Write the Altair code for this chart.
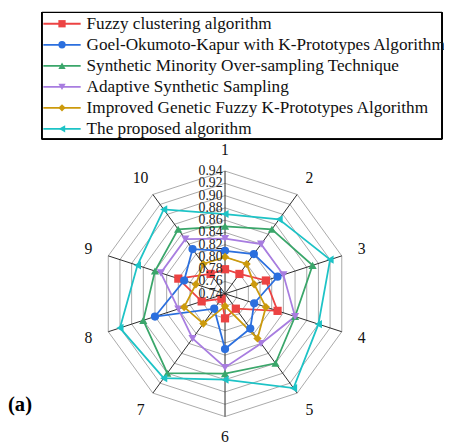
import altair as alt
import pandas as pd

# ---- data ----
series_names = [
    "Fuzzy clustering algorithm",
    "Goel-Okumoto-Kapur with K-Prototypes Algorithm",
    "Synthetic Minority Over-sampling Technique",
    "Adaptive Synthetic Sampling",
    "Improved Genetic Fuzzy K-Prototypes Algorithm",
    "The proposed algorithm",
]
axes_labels = ["1", "2", "3", "4", "5", "6", "7", "8", "9", "10"]
fuzzy = [0.78, 0.78, 0.81, 0.83, 0.77, 0.78, 0.75, 0.78, 0.82, 0.78]
gokp = [0.81, 0.82, 0.83, 0.79, 0.81, 0.83, 0.77, 0.86, 0.81, 0.83]
smote = [0.85, 0.87, 0.89, 0.86, 0.88, 0.87, 0.90, 0.88, 0.86, 0.87]
adasyn = [0.83, 0.84, 0.84, 0.86, 0.84, 0.86, 0.83, 0.82, 0.85, 0.85]
igfkp = [0.80, 0.80, 0.79, 0.81, 0.83, 0.76, 0.80, 0.81, 0.79, 0.80]
proposed = [0.87, 0.89, 0.92, 0.90, 0.93, 0.88, 0.91, 0.92, 0.89, 0.91]
ticks = [0.74, 0.76, 0.78, 0.80, 0.82, 0.84, 0.86, 0.88, 0.90, 0.92, 0.94]

colors = ["#ec4343", "#2b6fde", "#3aa66a", "#a87de0", "#cc9a0c", "#1dc3c6"]
shapes = ["square", "circle", "triangle-up", "triangle-down", "diamond", "triangle-left"]

R_MIN, R_MAX = 0.74, 0.94
N = len(axes_labels)

all_vals = [fuzzy, gokp, smote, adasyn, igfkp, proposed]
rows = []
for s, vals in zip(series_names, all_vals):
    for i in range(N + 1):
        k = i % N
        rows.append({"series": s, "axis": k, "value": vals[k], "ord": i})
df = pd.DataFrame(rows)

ring_rows = []
for t in ticks[1:]:
    for i in range(N + 1):
        ring_rows.append({"tick": t, "axis": i % N, "ord": i})
rings = pd.DataFrame(ring_rows)

spokes = pd.DataFrame({"axis": list(range(N)), "label": axes_labels})
tick_df = pd.DataFrame({"tick": ticks, "label": [f"{t:.2f}" for t in ticks]})
leg_df = pd.DataFrame({"series": series_names})

W, H = 444, 440
CX, CY, RPX = 221, 287, 125
xs = alt.Scale(domain=[-CX / RPX, (W - CX) / RPX], range=[0, W], nice=False, zero=False)
ys = alt.Scale(domain=[(CY - H) / RPX, CY / RPX], range=[H, 0], nice=False, zero=False)
cs = alt.Scale(domain=series_names, range=colors)
ss = alt.Scale(domain=series_names, range=shapes)
FONT = "Liberation Serif, Times New Roman, serif"

ang = "datum.axis * 2 * PI / 10"

grid = alt.Chart(rings).transform_calculate(
    r=f"(datum.tick - {R_MIN}) / {R_MAX - R_MIN}"
).transform_calculate(
    x=f"datum.r * sin({ang})", y=f"datum.r * cos({ang})"
).mark_line(color="#a8a8a8", strokeWidth=1).encode(
    x=alt.X("x:Q", scale=xs, axis=None),
    y=alt.Y("y:Q", scale=ys, axis=None),
    detail="tick:N",
    order="ord:Q",
)

spoke = alt.Chart(spokes).transform_calculate(
    x=f"sin({ang})", y=f"cos({ang})", z="0"
).mark_rule(color="#2a2a2a", strokeWidth=1).encode(
    x=alt.X("z:Q", scale=xs, axis=None),
    y=alt.Y("z:Q", scale=ys, axis=None),
    x2="x:Q",
    y2="y:Q",
)

cat_labels = alt.Chart(spokes).transform_calculate(
    x=f"1.17 * sin({ang})", y=f"1.17 * cos({ang})"
).mark_text(font=FONT, fontSize=16, color="#111111", baseline="middle", align="center").encode(
    x=alt.X("x:Q", scale=xs, axis=None),
    y=alt.Y("y:Q", scale=ys, axis=None),
    text="label:N",
)

tick_labels = alt.Chart(tick_df).transform_calculate(
    x="-0.02", y=f"(datum.tick - {R_MIN}) / {R_MAX - R_MIN}"
).mark_text(font=FONT, fontSize=14, color="#222222", baseline="middle", align="right").encode(
    x=alt.X("x:Q", scale=xs, axis=None),
    y=alt.Y("y:Q", scale=ys, axis=None),
    text="label:N",
)

base = alt.Chart(df).transform_calculate(
    r=f"(datum.value - {R_MIN}) / {R_MAX - R_MIN}"
).transform_calculate(
    x=f"datum.r * sin({ang})", y=f"datum.r * cos({ang})"
)

lines = base.mark_line(strokeWidth=1.8).encode(
    x=alt.X("x:Q", scale=xs, axis=None),
    y=alt.Y("y:Q", scale=ys, axis=None),
    color=alt.Color("series:N", scale=cs, legend=None),
    detail="series:N",
    order="ord:Q",
)

points = base.transform_filter("datum.ord < 10").mark_point(filled=True, opacity=1, size=70).encode(
    x=alt.X("x:Q", scale=xs, axis=None),
    y=alt.Y("y:Q", scale=ys, axis=None),
    color=alt.Color("series:N", scale=cs, legend=None),
    shape=alt.Shape("series:N", scale=ss, legend=None),
)

# ---- legend ----
ly = alt.Y("series:N", scale=alt.Scale(type="point", domain=series_names, range=[12, 119], padding=0), axis=None)
leg_box = alt.Chart(leg_df).mark_rect(fill=None, stroke="#000000", strokeWidth=1).encode(
    x=alt.value(34.5), x2=alt.value(442), y=alt.value(0.5), y2=alt.value(129.5)
)
leg_line = alt.Chart(leg_df).mark_rule(strokeWidth=1.8).encode(
    x=alt.value(36), x2=alt.value(74), y=ly,
    color=alt.Color("series:N", scale=cs, legend=None),
)
leg_pt = alt.Chart(leg_df).mark_point(filled=True, opacity=1, size=55).encode(
    x=alt.value(55), y=ly,
    color=alt.Color("series:N", scale=cs, legend=None),
    shape=alt.Shape("series:N", scale=ss, legend=None),
)
leg_txt = alt.Chart(leg_df).mark_text(font=FONT, fontSize=17.5, align="left", baseline="middle", color="#111111").encode(
    x=alt.value(80), y=ly, text="series:N",
)

panel = alt.Chart(leg_df).transform_filter("datum.series == 'The proposed algorithm'").transform_calculate(
    t="'(a)'"
).mark_text(font=FONT, fontSize=21, fontWeight="bold", align="left", baseline="middle", color="#000000").encode(
    x=alt.value(0), y=alt.value(400), text="t:N"
)

chart = alt.layer(
    grid, spoke, lines, points, tick_labels, cat_labels,
    leg_box, leg_line, leg_pt, leg_txt, panel
).resolve_scale(y="independent").properties(
    width=W, height=H, padding=0, autosize="none"
).configure_view(stroke=None)

chart.save("out.html", embed_options={"renderer": "svg", "actions": False})
